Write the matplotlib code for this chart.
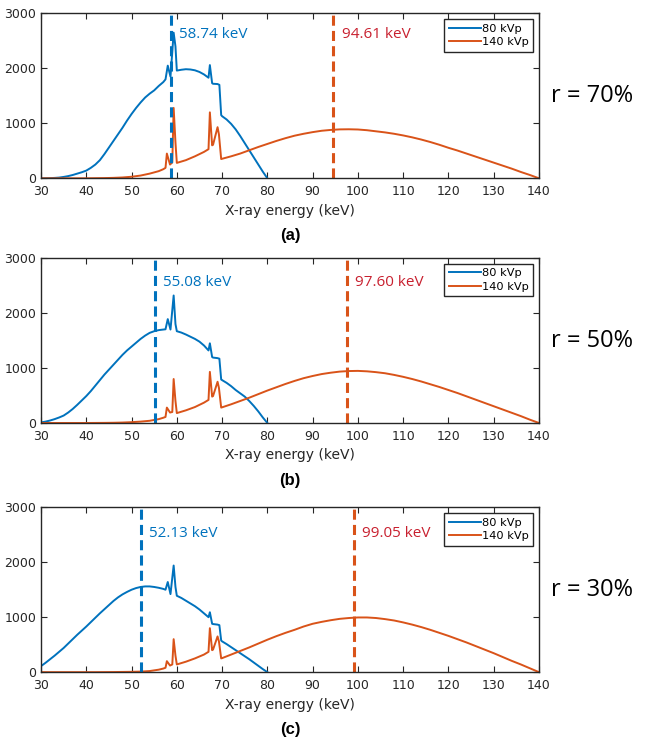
import numpy as np
import matplotlib
matplotlib.use("Agg")
import matplotlib.pyplot as plt

# energy grids (keV)
e80 = list(range(30, 58)) + [57.5, 58, 58.6, 59.3, 59.7, 60] + list(range(61, 68)) \
    + [67.3, 67.8, 68, 69, 69.4, 69.8] + list(range(70, 81))
e140 = [30, 35, 40, 42, 44, 46, 48, 50, 52, 54, 56, 57, 57.5, 57.8, 58.5, 59, 59.3, 59.7,
        60, 62, 64, 66, 67, 67.3, 67.8, 68, 69, 69.3, 69.8] + list(range(70, 141, 2))

# 80 kVp spectra, panels a/b/c
s80_a = [0, 1, 3, 7, 13, 25, 40, 60, 85, 110, 140, 190, 250, 330, 440, 560, 680, 800, 920, 1050,
         1170, 1280, 1380, 1470, 1540, 1600, 1680, 1750,
         1800, 2050, 1850, 2650, 2400, 1960,
         1975, 1985, 1980, 1965, 1935, 1890, 1830,
         2060, 1730, 1720, 1715, 1700, 1150,
         1130, 1070, 990, 890, 770, 640, 510, 380, 250, 120, 0]
s80_b = [10, 25, 45, 70, 100, 135, 190, 255, 330, 410, 490, 580, 680, 780, 880, 970, 1060, 1150,
         1240, 1320, 1390, 1460, 1530, 1590, 1640, 1670, 1690, 1700,
         1705, 1890, 1700, 2320, 1800, 1670,
         1645, 1610, 1570, 1530, 1480, 1410, 1320,
         1450, 1200, 1190, 1180, 1170, 790,
         780, 730, 670, 600, 540, 480, 400, 310, 210, 100, 0]
s80_c = [110, 170, 235, 300, 370, 440, 520, 600, 680, 755, 830, 910, 990, 1070, 1145, 1220, 1295,
         1360, 1415, 1460, 1500, 1530, 1550, 1560, 1560, 1550, 1535, 1515,
         1500, 1640, 1420, 1940, 1550, 1390,
         1350, 1300, 1250, 1200, 1140, 1070, 1000,
         1090, 880, 875, 865, 855, 575,
         560, 510, 455, 400, 345, 290, 235, 175, 115, 55, 0]

# 140 kVp spectra, panels a/b/c
s140_a = [0, 0, 0, 2, 4, 8, 15, 28, 50, 85, 130, 165, 190, 450, 250, 290, 1280, 650,
          280, 330, 400, 480, 530, 1200, 600, 610, 930, 800, 350,
          355, 400, 450, 510, 570, 625, 680, 730, 775, 810, 840, 865, 880, 890, 892, 888, 875,
          855, 835, 810, 780, 745, 705, 660, 610, 555, 505, 450, 395, 340, 285, 230, 175, 115,
          60, 0]
s140_b = [0, 0, 0, 1, 2, 4, 8, 15, 25, 40, 70, 95, 110, 280, 190, 200, 800, 400,
          180, 230, 290, 370, 420, 930, 480, 490, 750, 640, 280,
          285, 340, 400, 460, 525, 590, 650, 710, 765, 815, 855, 890, 915, 935, 945, 948, 940,
          925, 905, 875, 840, 800, 755, 705, 655, 600, 545, 485, 425, 365, 305, 245, 185, 125,
          60, 0]
s140_c = [0, 0, 0, 0, 1, 2, 4, 6, 10, 20, 45, 65, 80, 200, 120, 140, 600, 300,
          140, 190, 250, 320, 370, 800, 400, 410, 650, 560, 250,
          255, 320, 385, 450, 520, 590, 655, 715, 770, 830, 880, 915, 945, 970, 985, 995, 995,
          985, 965, 940, 905, 865, 820, 770, 715, 660, 600, 540, 475, 410, 345, 275, 205, 140,
          70, 0]

mean80 = [58.74, 55.08, 52.13]
mean140 = [94.61, 97.60, 99.05]
ratios = ["r = 70%", "r = 50%", "r = 30%"]
panel_tags = ["(a)", "(b)", "(c)"]

blue = "#0072BD"
orange = "#D95319"
red = "#C8202F"

fig = plt.figure(figsize=(6.45, 7.46), dpi=100)
bottoms = [0.761, 0.433, 0.099]
s80_all = [s80_a, s80_b, s80_c]
s140_all = [s140_a, s140_b, s140_c]
text_y = [2620, 2560, 2530]

for k in range(3):
    ax = fig.add_axes([0.0636, bottoms[k], 0.772, 0.221])
    ax.plot(e80, s80_all[k], color=blue, lw=1.4, label="80 kVp")
    ax.plot(e140, s140_all[k], color=orange, lw=1.4, label="140 kVp")
    ax.axvline(mean80[k], color=blue, lw=2.2, ls=(0, (3.3, 1.7)))
    ax.axvline(mean140[k], color=orange, lw=2.2, ls=(0, (3.3, 1.7)))
    ax.text(mean80[k] + 1.8, text_y[k], f"{mean80[k]:.2f} keV", color=blue, fontsize=11,
            family="Open Sans", va="center")
    ax.text(mean140[k] + 1.8, text_y[k], f"{mean140[k]:.2f} keV", color=red, fontsize=11,
            family="Open Sans", va="center")
    ax.set_xlim(30, 140)
    ax.set_ylim(0, 3000)
    ax.set_xticks(np.arange(30, 141, 10))
    ax.set_yticks([0, 1000, 2000, 3000])
    ax.tick_params(direction="in", top=True, right=True, length=4, labelsize=9,
                   colors="#262626", labelcolor="#262626")
    ax.tick_params(axis="x", pad=5)
    for sp in ax.spines.values():
        sp.set_color("#262626")
        sp.set_linewidth(1.0)
    ax.set_xlabel("X-ray energy (keV)", fontsize=10, color="#262626", labelpad=4)
    leg = ax.legend(loc="upper right", fontsize=8.2, handlelength=2.8, handletextpad=0.1,
                    borderpad=0.4, labelspacing=0.3, fancybox=False, framealpha=1,
                    edgecolor="#262626", borderaxespad=0.5)
    leg.get_frame().set_linewidth(1.0)
    ax.text(1.025, 0.5, ratios[k], transform=ax.transAxes, fontsize=17, va="center",
            family="Open Sans")
    ax.text(0.5, -0.35, panel_tags[k], transform=ax.transAxes, fontsize=12, ha="center",
            va="center", fontweight="bold", family="Liberation Sans")

fig.savefig("out.png", dpi=100, facecolor="white")
